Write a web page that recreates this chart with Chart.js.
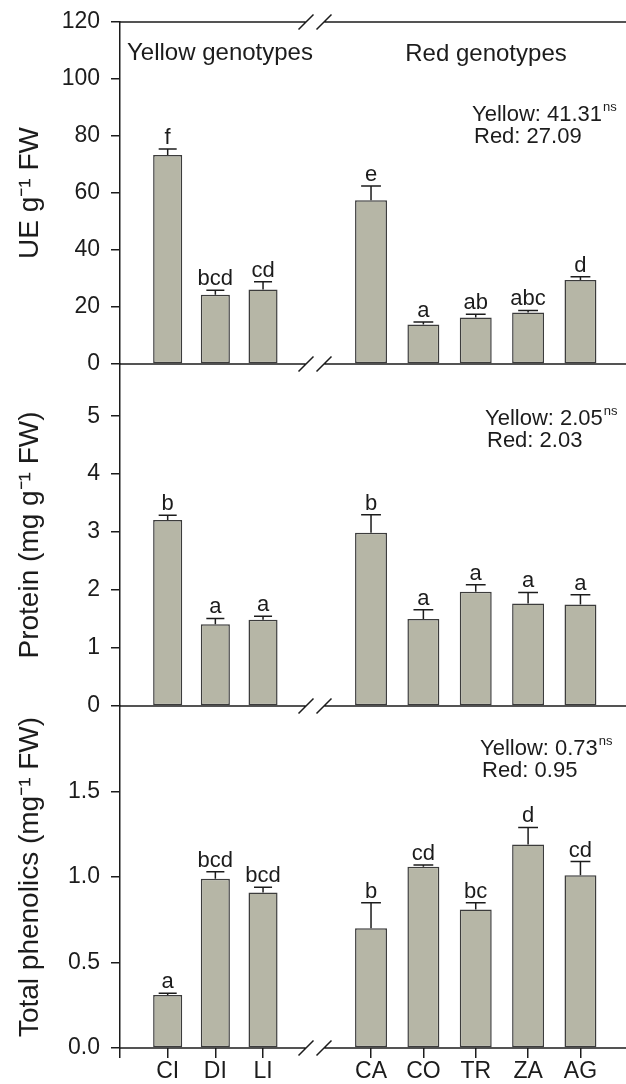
<!DOCTYPE html>
<html>
<head>
<meta charset="utf-8">
<script src="https://cdn.jsdelivr.net/npm/chart.js@4.4.1/dist/chart.umd.min.js"></script>
<style>
  html, body { margin: 0; padding: 0; background: #fff; }
</style>
</head>
<body>
<canvas id="chart" width="626" height="1084"></canvas>
<script>
// Genotypes
const yellowLabels = ['CI', 'DI', 'LI'];
const redLabels = ['CA', 'CO', 'TR', 'ZA', 'AG'];

// UE g-1 FW
const ueYellow = [73.3, 24.3, 26.1];
const ueYellowErr = [2.1, 1.6, 2.8];
const ueYellowLetters = ['f', 'bcd', 'cd'];
const ueRed = [57.5, 13.9, 16.3, 18.1, 29.5];
const ueRedErr = [5.0, 0.8, 1.2, 0.7, 1.1];
const ueRedLetters = ['e', 'a', 'ab', 'abc', 'd'];

// Protein (mg g-1 FW)
const protYellow = [3.21, 1.41, 1.49];
const protYellowErr = [0.08, 0.10, 0.06];
const protYellowLetters = ['b', 'a', 'a'];
const protRed = [2.99, 1.50, 1.97, 1.77, 1.75];
const protRedErr = [0.31, 0.16, 0.12, 0.19, 0.17];
const protRedLetters = ['b', 'a', 'a', 'a', 'a'];

// Total phenolics (mg-1 FW)
const phenYellow = [0.31, 0.99, 0.91];
const phenYellowErr = [0.01, 0.04, 0.03];
const phenYellowLetters = ['a', 'bcd', 'bcd'];
const phenRed = [0.70, 1.06, 0.81, 1.19, 1.01];
const phenRedErr = [0.15, 0.01, 0.04, 0.10, 0.08];
const phenRedLetters = ['b', 'cd', 'bc', 'd', 'cd'];

// Group means printed in each panel (yellow, red)
const ueMeans = ['41.31', '27.09'];
const protMeans = ['2.05', '2.03'];
const phenMeans = ['0.73', '0.95'];

// Y tick labels
const ueTicks = [0, 20, 40, 60, 80, 100, 120];
const protTicks = [0, 1, 2, 3, 4, 5];
const phenTicks = [0, 0.5, 1.0, 1.5];

const FONT = '"Liberation Sans", Arial, Helvetica, sans-serif';
const ink = '#1c1c1c';
const barFill = '#b6b6a6';
const barEdge = '#3c3c3c';

Chart.defaults.font.family = FONT;
Chart.defaults.color = ink;

function noPadding(s) {
    s.paddingLeft = 0;
    s.paddingRight = 0;
    s.paddingTop = 0;
    s.paddingBottom = 0;
}

function bars(values, errs, letters, xAxisID, yAxisID) {
    return {
        data: values.map((v, i) => ({ x: i + 1, y: v })),
        err: errs,
        letters: letters,
        xAxisID: xAxisID,
        yAxisID: yAxisID,
        backgroundColor: barFill,
        borderColor: barEdge,
        borderWidth: 1.5,
        borderSkipped: false,
        grouped: false,
        barPercentage: 0.61,
        categoryPercentage: 1
    };
}

function yAxis(title, max, ticks, weight, fmt) {
    return {
        type: 'linear',
        position: 'left',
        stack: 'panels',
        stackWeight: 1,
        weight: weight,
        bounds: 'data',
        min: 0,
        max: max,
        afterFit: s => { s.width = 120; noPadding(s); },
        afterBuildTicks: s => { s.ticks = ticks.map(v => ({ value: v })); },
        border: { display: true, color: ink, width: 1.5 },
        grid: { drawOnChartArea: false, tickLength: 9, color: ink, lineWidth: 1.5 },
        ticks: { autoSkip: false, color: ink, font: { size: 23 }, padding: 11, callback: fmt },
        title: { display: true, text: title, color: ink, font: { size: 28 }, padding: { top: 13 } }
    };
}

function xAxis(labels, min, max, stackWeight, weight) {
    const positions = labels.map((_, i) => i + 1);
    if (min === 0) positions.unshift(0);
    return {
        type: 'linear',
        position: 'bottom',
        stack: 'groups',
        stackWeight: stackWeight,
        weight: weight,
        bounds: 'data',
        offset: false,
        min: min,
        max: max,
        afterFit: s => { s.height = 36; noPadding(s); },
        afterBuildTicks: s => { s.ticks = positions.map(v => ({ value: v })); },
        border: { display: false },
        grid: { offset: false, drawOnChartArea: false, tickLength: 10, color: ink, lineWidth: 1.5 },
        ticks: {
            autoSkip: false, maxRotation: 0, padding: 2, color: ink,
            font: { size: 23, lineHeight: 1 },
            callback: v => labels[v - 1] || ''
        }
    };
}

// Layout of the free text (pixels)
const notePlaces = [[472, 121], [485, 425], [480, 755]];
const groupTitles = [['Yellow genotypes', 220, 60], ['Red genotypes', 486, 61]];

const extras = {
    id: 'extras',
    afterDatasetsDraw(chart) {
        const ctx = chart.ctx;
        const area = chart.chartArea;
        ctx.save();

        // error bars and letters
        chart.data.datasets.forEach((ds, di) => {
            const meta = chart.getDatasetMeta(di);
            const yScale = chart.scales[ds.yAxisID];
            meta.data.forEach((bar, i) => {
                const top = yScale.getPixelForValue(ds.data[i].y + ds.err[i]);
                const half = bar.width * 0.31;
                ctx.strokeStyle = ink;
                ctx.lineWidth = 1.5;
                ctx.beginPath();
                ctx.moveTo(bar.x, bar.y);
                ctx.lineTo(bar.x, top);
                ctx.moveTo(bar.x - half, top);
                ctx.lineTo(bar.x + half, top);
                ctx.stroke();
                ctx.fillStyle = ink;
                ctx.font = '22px ' + FONT;
                ctx.textAlign = 'center';
                ctx.textBaseline = 'alphabetic';
                ctx.fillText(ds.letters[i], bar.x, top - 5);
            });
        });

        // broken x axis lines
        const brk = chart.scales.xl.right;
        const yUE = chart.scales.yUE, yProt = chart.scales.yProt, yPhen = chart.scales.yPhen;
        const lines = [
            yUE.getPixelForValue(120),
            yUE.getPixelForValue(0),
            yProt.getPixelForValue(0),
            yPhen.getPixelForValue(0)
        ];
        ctx.strokeStyle = ink;
        ctx.lineWidth = 1.5;
        lines.forEach(y => {
            ctx.beginPath();
            ctx.moveTo(area.left, y);
            ctx.lineTo(brk - 9, y);
            ctx.moveTo(brk + 9, y);
            ctx.lineTo(area.right, y);
            [-9, 9].forEach(dx => {
                ctx.moveTo(brk + dx - 7.5, y + 7.5);
                ctx.lineTo(brk + dx + 7.5, y - 7.5);
            });
            ctx.stroke();
        });

        // group titles
        ctx.fillStyle = ink;
        ctx.font = '24px ' + FONT;
        ctx.textAlign = 'center';
        groupTitles.forEach(([t, x, y]) => ctx.fillText(t, x, y));

        // group means
        [ueMeans, protMeans, phenMeans].forEach((m, k) => {
            const [x, y] = notePlaces[k];
            ctx.textAlign = 'left';
            ctx.font = '22px ' + FONT;
            const first = 'Yellow: ' + m[0];
            ctx.fillText(first, x, y);
            const w = ctx.measureText(first).width;
            ctx.fillText('Red: ' + m[1], x + 2, y + 22);
            ctx.font = '13px ' + FONT;
            ctx.fillText('ns', x + w + 1, y - 10);
        });

        ctx.restore();
    }
};

new Chart(document.getElementById('chart'), {
    type: 'bar',
    data: {
        datasets: [
            bars(ueYellow, ueYellowErr, ueYellowLetters, 'xl', 'yUE'),
            bars(ueRed, ueRedErr, ueRedLetters, 'xr', 'yUE'),
            bars(protYellow, protYellowErr, protYellowLetters, 'xl', 'yProt'),
            bars(protRed, protRedErr, protRedLetters, 'xr', 'yProt'),
            bars(phenYellow, phenYellowErr, phenYellowLetters, 'xl', 'yPhen'),
            bars(phenRed, phenRedErr, phenRedLetters, 'xr', 'yPhen')
        ]
    },
    options: {
        responsive: false,
        animation: false,
        devicePixelRatio: 1,
        layout: { autoPadding: false, padding: { top: 22, left: 0, right: 0, bottom: 0 } },
        plugins: { legend: { display: false }, tooltip: { enabled: false } },
        scales: {
            yUE: yAxis('UE g\u207B\u00B9 FW', 120, ueTicks, 3, v => v),
            yProt: yAxis('Protein (mg g\u207B\u00B9 FW)', 5.9, protTicks, 2, v => v),
            yPhen: yAxis('Total phenolics (mg\u207B\u00B9 FW)', 2.0, phenTicks, 1, v => v.toFixed(1)),
            xl: xAxis(yellowLabels, 0, 4.09, 195, 0),
            xr: xAxis(redLabels, -0.07, 5.87, 311, 1)
        }
    },
    plugins: [extras]
});
</script>
</body>
</html>
